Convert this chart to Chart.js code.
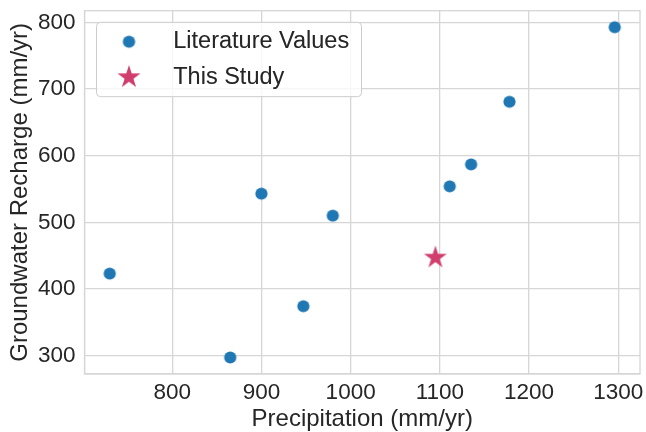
<!DOCTYPE html>
<html>
<head>
<meta charset="utf-8">
<title>Groundwater recharge vs precipitation</title>
<script src="https://cdn.jsdelivr.net/npm/chart.js@4.4.1/dist/chart.umd.min.js"></script>
<style>
    html, body { margin: 0; padding: 0; background: #fff; }
    #wrap { width: 646px; height: 432px; }
</style>
</head>
<body>
<div id="wrap"><canvas id="chart" width="646" height="432"></canvas></div>
<script>
// Literature values (mm/yr)
const litPrecip = [730, 865, 900, 947, 980, 1111, 1135, 1178, 1296];
const litRecharge = [423, 297, 543, 374, 510, 554, 587, 681, 793];

// This study (mm/yr)
const studyPrecip = [1095];
const studyRecharge = [447];

const seriesLabels = ['Literature Values', 'This Study'];
const xTicks = [800, 900, 1000, 1100, 1200, 1300];
const yTicks = [300, 400, 500, 600, 700, 800];

const TEXT = '#262626';
const GRID = '#d6d6d6';
const BLUE = '#1f77b4';
const PINK = '#d03e6d';

Chart.defaults.font.family = '"Liberation Sans", Arial, sans-serif';
Chart.defaults.color = TEXT;

// axis range with a 5% margin on each side, like matplotlib's autoscale
function paddedRange(vals) {
    const lo = Math.min(...vals), hi = Math.max(...vals);
    const m = (hi - lo) * 0.05;
    return [lo - m, hi + m];
}
const [xMin, xMax] = paddedRange(litPrecip.concat(studyPrecip));
const [yMin, yMax] = paddedRange(litRecharge.concat(studyRecharge));

// marker images (filled dot and five-pointed star)
function dotImage(color, r) {
    const c = document.createElement('canvas');
    const s = Math.ceil(r * 2) + 2;
    c.width = c.height = s;
    const g = c.getContext('2d');
    g.fillStyle = color;
    g.beginPath();
    g.arc(s / 2, s / 2, r, 0, Math.PI * 2);
    g.fill();
    return c;
}

function starImage(color, R) {
    const c = document.createElement('canvas');
    const s = Math.ceil(R * 2) + 2;
    c.width = c.height = s;
    const g = c.getContext('2d');
    const rIn = R * 0.382;
    g.fillStyle = color;
    g.beginPath();
    for (let i = 0; i < 10; i++) {
        const r = i % 2 === 0 ? R : rIn;
        const a = -Math.PI / 2 + i * Math.PI / 5;
        const px = s / 2 + r * Math.cos(a), py = s / 2 + r * Math.sin(a);
        if (i === 0) g.moveTo(px, py); else g.lineTo(px, py);
    }
    g.closePath();
    g.fill();
    return c;
}

const dotImg = dotImage(BLUE, 6.1);
const starImg = starImage(PINK, 12);

// full box round the plot area (top and right spines too)
const plotFrame = {
    id: 'plotFrame',
    beforeDatasetsDraw(chart) {
        const a = chart.chartArea;
        const ctx = chart.ctx;
        ctx.save();
        ctx.strokeStyle = GRID;
        ctx.lineWidth = 1.3;
        ctx.strokeRect(a.left, a.top, a.right - a.left, a.bottom - a.top);
        ctx.restore();
    }
};

// legend sits inside the plot area, top-left
const legendFrame = {
    id: 'legendFrame',
    afterLayout(chart) {
        const lg = chart.legend;
        const shift = chart.chartArea.top - lg.top;
        lg.top += shift;
        lg.bottom += shift;
    },
    afterDraw(chart) {
        const a = chart.chartArea;
        const ctx = chart.ctx;
        const x = a.left + 12, y = a.top + 11.6, w = 265, h = 74.4, r = 4;
        ctx.save();
        ctx.beginPath();
        ctx.moveTo(x + r, y);
        ctx.arcTo(x + w, y, x + w, y + h, r);
        ctx.arcTo(x + w, y + h, x, y + h, r);
        ctx.arcTo(x, y + h, x, y, r);
        ctx.arcTo(x, y, x + w, y, r);
        ctx.closePath();
        ctx.fillStyle = 'rgba(255,255,255,0.8)';
        ctx.fill();
        ctx.strokeStyle = '#cccccc';
        ctx.lineWidth = 1;
        ctx.stroke();
        ctx.restore();
        chart.legend.draw();
    }
};

new Chart(document.getElementById('chart'), {
    type: 'scatter',
    data: {
        datasets: [{
            label: seriesLabels[0],
            data: litPrecip.map((x, i) => ({ x: x, y: litRecharge[i] })),
            pointStyle: dotImg,
            backgroundColor: BLUE,
            borderColor: BLUE,
            pointRadius: 6
        }, {
            label: seriesLabels[1],
            data: studyPrecip.map((x, i) => ({ x: x, y: studyRecharge[i] })),
            pointStyle: starImg,
            backgroundColor: PINK,
            borderColor: PINK,
            pointRadius: 12
        }]
    },
    options: {
        responsive: false,
        devicePixelRatio: 1,
        animation: false,
        layout: { autoPadding: false, padding: { top: 10.7, right: 6, left: 0, bottom: 0 } },
        plugins: {
            tooltip: { enabled: false },
            legend: {
                position: 'chartArea',
                align: 'start',
                fullSize: false,
                title: { display: true, text: '', padding: { top: 6.05, bottom: 0 }, font: { size: 1, lineHeight: 1.2 } },
                labels: {
                    usePointStyle: true,
                    pointStyleWidth: 65,
                    boxHeight: 8.5,
                    padding: 12,
                    color: TEXT,
                    font: { size: 23.5 },
                    generateLabels: chart => chart.data.datasets.map((ds, i) => ({
                        text: ds.label,
                        pointStyle: ds.pointStyle,
                        fillStyle: ds.backgroundColor,
                        strokeStyle: ds.borderColor,
                        lineWidth: 0,
                        fontColor: TEXT,
                        hidden: false,
                        datasetIndex: i
                    }))
                }
            }
        },
        scales: {
            x: {
                type: 'linear',
                min: xMin,
                max: xMax,
                afterBuildTicks: s => { s.ticks = xTicks.map(v => ({ value: v })); },
                afterFit: s => { s.height = 58; },
                grid: { color: GRID, lineWidth: 1.3, drawTicks: false },
                border: { color: GRID, width: 1.3 },
                ticks: { color: TEXT, font: { size: 22.5, lineHeight: 1.69 }, padding: 0, callback: v => String(v) },
                title: {
                    display: true,
                    text: 'Precipitation (mm/yr)',
                    color: TEXT,
                    font: { size: 24, lineHeight: 1 },
                    padding: { top: 0, bottom: 1 }
                }
            },
            y: {
                type: 'linear',
                min: yMin,
                max: yMax,
                afterBuildTicks: s => { s.ticks = yTicks.map(v => ({ value: v })); },
                afterFit: s => { s.width = 84.5; s.paddingTop = 0; s.paddingBottom = 0; },
                grid: { color: GRID, lineWidth: 1.3, drawTicks: false },
                border: { color: GRID, width: 1.3 },
                ticks: { color: TEXT, font: { size: 22.5 }, padding: 9, callback: v => String(v) },
                title: {
                    display: true,
                    text: 'Groundwater Recharge (mm/yr)',
                    color: TEXT,
                    font: { size: 24, lineHeight: 1 },
                    padding: { top: 8, bottom: 0 }
                }
            }
        }
    },
    plugins: [plotFrame, legendFrame]
});
</script>
</body>
</html>
